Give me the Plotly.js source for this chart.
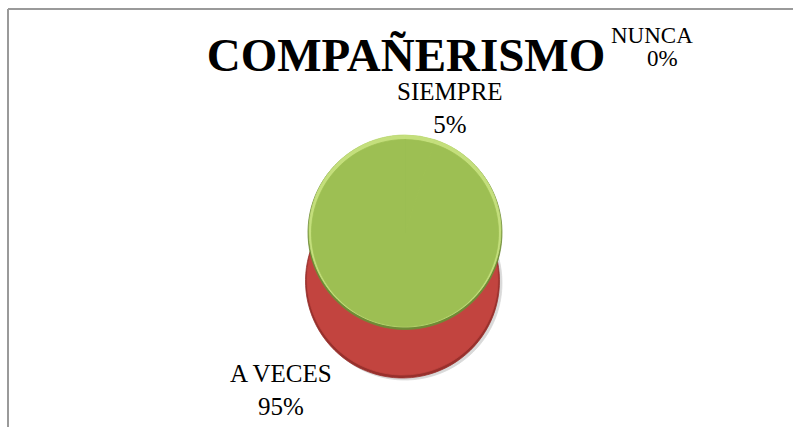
<!DOCTYPE html>
<html>
<head>
<meta charset="utf-8">
<script src="https://cdn.plot.ly/plotly-3.0.1.min.js"></script>
<style>html,body{margin:0;padding:0;background:#fff;}#chart{width:793px;height:427px;}</style>
</head>
<body>
<div id="chart"></div>
<script>
// Data
const chartTitle = 'COMPAÑERISMO';
const categories = ['SIEMPRE', 'A VECES', 'NUNCA'];
const values = [5, 95, 0];
const percentLabels = ['5%', '95%', '0%'];

// Styles / layout positions (not data)
const W = 793, H = 427;
const px = x => x / W;
const py = y => 1 - y / H;
const FONT = 'Liberation Serif, Times New Roman, serif';

// pie layers: [color, cx, cy, r]  (drawn back to front)
const layers = [
  ['#d9d9d9', 405, 283, 97],   // soft shadow
  ['#98302c', 402.5, 281, 97], // side dark edge
  ['#c2443f', 402.5, 279.5, 95.5], // side face
  ['#6f8c36', 405, 232.5, 97], // top dark rim
  ['#c4df7c', 405, 231, 96],   // top light rim
  ['#9dbf53', 405, 233, 93.5]  // top face
];

const traces = layers.map(([col, cx, cy, r]) => ({
  type: 'pie', labels: categories, values: values, sort: false,
  direction: 'clockwise', rotation: 0, textinfo: 'none', hoverinfo: 'skip',
  showlegend: false,
  marker: { colors: categories.map(() => col), line: { width: 0.8, color: col } },
  domain: { x: [px(cx - r), px(cx + r)], y: [py(cy + r), py(cy - r)] }
}));

// label positions per category: [x, y, fontSize]
const labelPos = [
  [450, 108, 25],
  [281, 390, 25]
];
const annotations = [];
labelPos.forEach((p, i) => {
  annotations.push({ xref: 'paper', yref: 'paper', x: px(p[0]), y: py(p[1]),
    text: categories[i] + '<br>' + percentLabels[i],
    showarrow: false, xanchor: 'center', yanchor: 'middle',
    font: { family: FONT, size: p[2], color: '#000' } });
});
// NUNCA label (tight two-line placement as in the reference)
annotations.push({ xref: 'paper', yref: 'paper', x: px(652), y: py(36), text: categories[2],
  showarrow: false, xanchor: 'center', yanchor: 'middle', font: { family: FONT, size: 23, color: '#000' } });
annotations.push({ xref: 'paper', yref: 'paper', x: px(662), y: py(58), text: percentLabels[2],
  showarrow: false, xanchor: 'center', yanchor: 'middle', font: { family: FONT, size: 23, color: '#000' } });

const layout = {
  width: W, height: H,
  margin: { l: 0, r: 0, t: 0, b: 0 },
  paper_bgcolor: '#fff',
  title: { text: '<b>' + chartTitle + '</b>', x: px(406), xanchor: 'center', xref: 'paper',
    y: py(55), yanchor: 'middle', yref: 'paper',
    font: { family: FONT, size: 47, color: '#000' } },
  annotations: annotations,
  shapes: [
    { type: 'line', xref: 'paper', yref: 'paper', x0: px(8), x1: 1.2, y0: py(9), y1: py(9), line: { color: '#9a9a9a', width: 2 } },
    { type: 'line', xref: 'paper', yref: 'paper', x0: px(8), x1: px(8), y0: py(9), y1: -0.2, line: { color: '#9a9a9a', width: 2 } }
  ]
};

Plotly.newPlot('chart', traces, layout, { displayModeBar: false, staticPlot: true });
</script>
</body>
</html>
